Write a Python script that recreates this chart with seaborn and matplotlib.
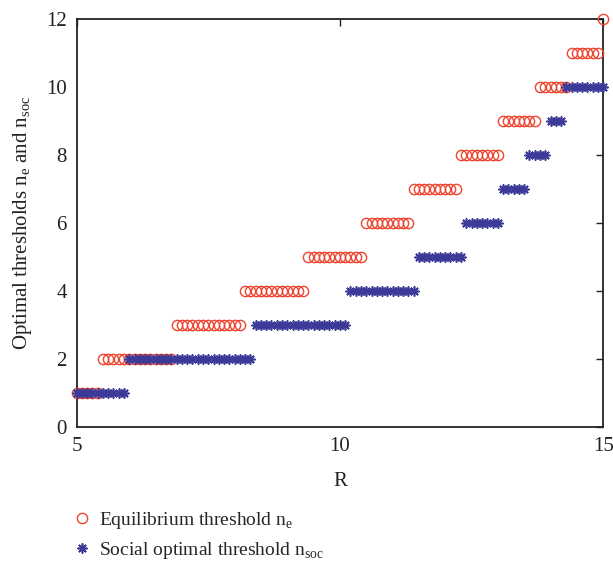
import numpy as np
import pandas as pd
import matplotlib
matplotlib.use("Agg")
import matplotlib.pyplot as plt
from matplotlib.lines import Line2D
import seaborn as sns

# R sampled at 0.1 steps from 5 to 15
R = np.round(np.arange(50, 151) / 10.0, 1)

n_e = ([1] * 5 + [2] * 14 + [3] * 13 + [4] * 12 + [5] * 11 + [6] * 9 +
       [7] * 9 + [8] * 8 + [9] * 7 + [10] * 6 + [11] * 6 + [12] * 1)
n_soc = ([1] * 10 + [2] * 24 + [3] * 18 + [4] * 13 + [5] * 9 + [6] * 7 +
         [7] * 5 + [8] * 4 + [9] * 3 + [10] * 8)

x_ticks = [5, 10, 15]
y_ticks = [0, 2, 4, 6, 8, 10, 12]

df = pd.DataFrame({"R": R, "n_e": n_e, "n_soc": n_soc})

sns.set_style("white")
plt.rcParams["font.family"] = ["Liberation Serif", "DejaVu Serif"]
plt.rcParams["mathtext.fontset"] = "custom"
plt.rcParams["mathtext.rm"] = "Liberation Serif"

red = "#ee4430"
blue = "#3b3a98"
ast = (8, 2, 0)
fs = 15

fig = plt.figure(figsize=(6.13, 5.67), dpi=100)
ax = fig.add_axes([0.125, 0.247, 0.859, 0.7195])

sns.lineplot(data=df, x="R", y="n_e", ax=ax, marker="o", markersize=7.4,
             markerfacecolor="none", markeredgecolor=red, markeredgewidth=1.0,
             linestyle="none", color=red, clip_on=False, zorder=3)
sns.lineplot(data=df, x="R", y="n_soc", ax=ax, marker=ast, markersize=7.2,
             markeredgecolor=blue, markeredgewidth=1.2, markerfacecolor=blue,
             linestyle="none", color=blue, clip_on=False, zorder=4)

ax.set_xlim(5, 15)
ax.set_ylim(0, 12)
ax.set_xticks(x_ticks)
ax.set_yticks(y_ticks)
ax.tick_params(direction="in", length=5, width=1, labelsize=fs, colors="#222222",
               top=True, right=True, pad=7)
for s in ax.spines.values():
    s.set_linewidth(1.3)
    s.set_color("#222222")

ax.set_xlabel("R", fontsize=fs, labelpad=12, color="#222222")
ax.set_ylabel(r"Optimal thresholds n$_\mathregular{e}$ and n$_\mathregular{soc}$",
              fontsize=fs, labelpad=9, color="#222222")

handles = [
    Line2D([], [], marker="o", linestyle="none", markerfacecolor="none",
           markeredgecolor=red, markersize=7.4, markeredgewidth=1.0),
    Line2D([], [], marker=ast, linestyle="none", markeredgecolor=blue,
           markersize=7.2, markeredgewidth=1.2),
]
labels = [r"Equilibrium threshold n$_\mathregular{e}$",
          r"Social optimal threshold n$_\mathregular{soc}$"]
fig.legend(handles, labels, loc="upper left", bbox_to_anchor=(0.104, 0.115),
           frameon=False, fontsize=14, handletextpad=0.3, labelspacing=0.5,
           handlelength=1.1, borderaxespad=0)

fig.savefig("out.png", dpi=100)
